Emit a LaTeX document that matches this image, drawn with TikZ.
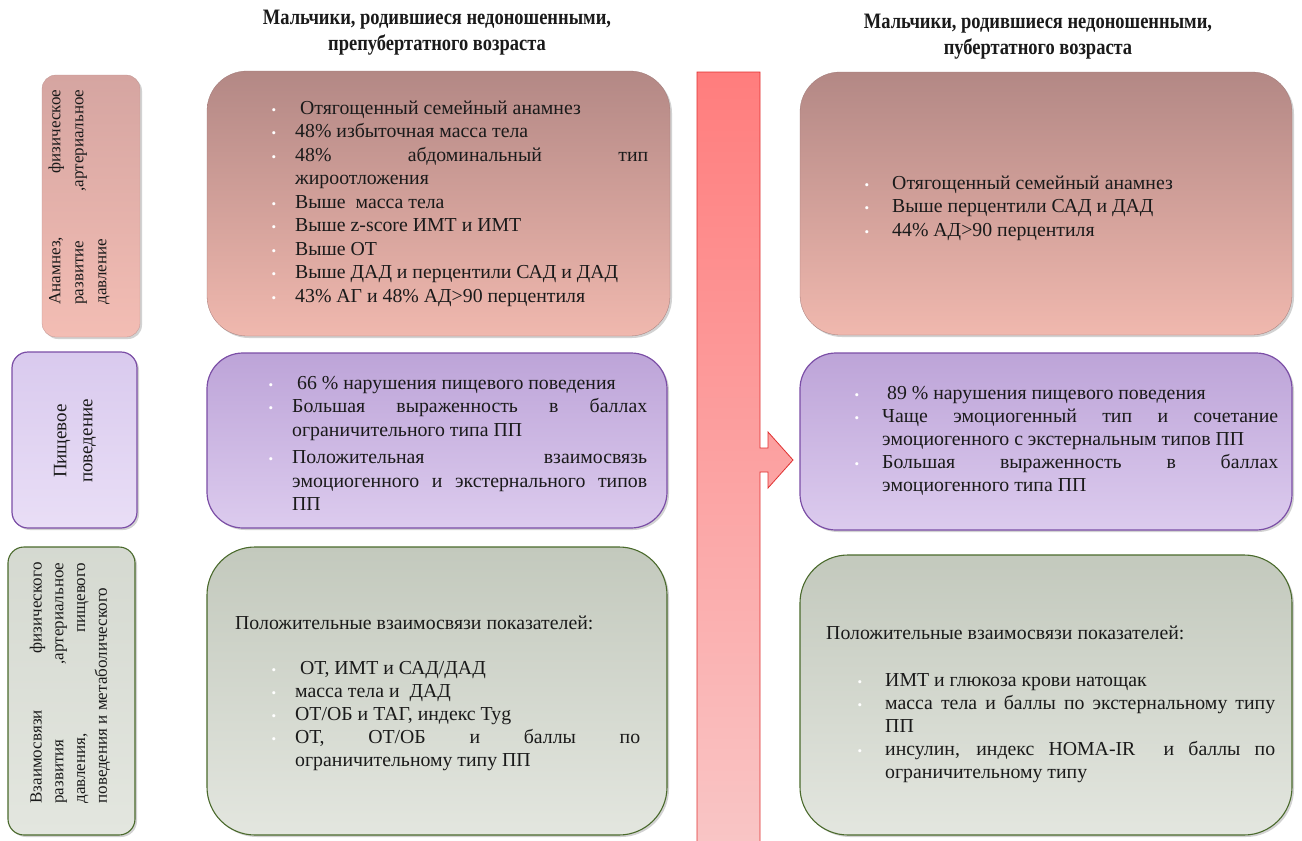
\documentclass[tikz,border=0pt]{standalone}
\usepackage{fontspec}
\setmainfont{Liberation Serif}
\newfontfamily\tfont[FakeStretch=0.84]{Liberation Serif}
\usetikzlibrary{shadows}
\definecolor{pinkA}{HTML}{B38885}
\definecolor{pinkB}{HTML}{F0B8AE}
\definecolor{pinkLA}{HTML}{D5A5A1}
\definecolor{pinkLB}{HTML}{F3BDB4}
\definecolor{purA}{HTML}{BDA4D8}
\definecolor{purB}{HTML}{DCCBEE}
\definecolor{purLA}{HTML}{D9CAEE}
\definecolor{purLB}{HTML}{E9DEF6}
\definecolor{purD}{HTML}{7B4EA6}
\definecolor{grnA}{HTML}{C3C9BD}
\definecolor{grnB}{HTML}{E3E6DF}
\definecolor{grnD}{HTML}{4A6A2C}
\definecolor{redA}{HTML}{FF7D7D}
\definecolor{redB}{HTML}{F9C6C6}
\definecolor{redD}{HTML}{E03030}
\definecolor{txt}{HTML}{1A1A1A}
\newcommand{\bu}{\leavevmode\llap{\textcolor{white}{\fontsize{13}{13}\selectfont •}\hspace{19pt}}}
\newcommand{\bur}{\leavevmode\llap{\textcolor{white}{\fontsize{13}{13}\selectfont •}\hspace{23pt}}}
\newcommand{\jl}[1]{\makebox[\linewidth][s]{#1}}
\newcommand{\bodyfont}{\fontsize{19.8}{23.5}\selectfont}
\newcommand{\labfont}{\fontsize{17}{23}\selectfont}
\tikzset{
  box/.style={inner sep=0pt, drop shadow={shadow xshift=2pt, shadow yshift=-2pt, opacity=0.35}},
  pinkbox/.style={box, rounded corners=40pt, top color=pinkA, bottom color=pinkB, draw=pinkA!90!black, line width=0.3pt},
  pinklab/.style={box, rounded corners=14pt, top color=pinkLA, bottom color=pinkLB, draw=pinkLA!90!black, line width=0.3pt},
  purbox/.style={box, rounded corners=36pt, top color=purA, bottom color=purB, draw=purD, line width=1.2pt},
  purlab/.style={box, rounded corners=16pt, top color=purLA, bottom color=purLB, draw=purD, line width=1.2pt},
  grnbox/.style={box, rounded corners=48pt, top color=grnA, bottom color=grnB, draw=grnD, line width=1.1pt},
  grnlab/.style={box, rounded corners=16pt, top color=grnA!70!white, bottom color=grnB, draw=grnD, line width=1.1pt},
  bodytext/.style={inner sep=0pt, anchor=base west, text=txt},
  labtext/.style={inner sep=0pt, rotate=90, text=txt},
  title/.style={inner sep=0pt, align=center, text=txt, font=\tfont\bfseries\fontsize{22}{26}\selectfont},
  bar/.style={top color=redA, bottom color=redB, draw=redD, line width=0.8pt}
}
\begin{document}
\begin{tikzpicture}[x=1pt, y=-1pt]
\useasboundingbox (0,0) rectangle (1302,841);
\fill[white] (0,0) rectangle (1302,841);
\clip (0,0) rectangle (1302,841);

% titles
\node[title] (t1) at (437,33) {Мальчики, родившиеся недоношенными,\\препубертатного возраста};
\node[title] (t2) at (1038,37) {Мальчики, родившиеся недоношенными,\\пубертатного возраста};

% boxes
\node[pinklab, minimum width=98pt, minimum height=262pt] (lp) at (91,206) {};
\node[purlab, minimum width=125pt, minimum height=176pt] (lu) at (74.5,440) {};
\node[grnlab, minimum width=127pt, minimum height=288pt] (lg) at (71.5,691) {};
\node[pinkbox, minimum width=463pt, minimum height=265pt] (mp) at (438.5,203.5) {};
\node[purbox, minimum width=460pt, minimum height=175pt] (mu) at (437,440.5) {};
\node[grnbox, minimum width=460pt, minimum height=288pt] (mg) at (437,691) {};
\node[pinkbox, minimum width=492pt, minimum height=263pt] (rp) at (1046,203.5) {};
\node[purbox, minimum width=492pt, minimum height=177pt] (ru) at (1046,441.5) {};
\node[grnbox, minimum width=492pt, minimum height=280pt] (rg) at (1046,695) {};

% red bar with arrow
\draw[bar] (697,72) -- (760,72) -- (760,448) -- (768,448) -- (768,432) -- (793,460)
  -- (768,488) -- (768,472) -- (760,472) -- (760,850) -- (697,850) -- cycle;

% left labels
\node[labtext] (l1) at (79,197) {\parbox{215pt}{\labfont
\jl{Анамнез, физическое}\\
\jl{развитие ,артериальное}\\
давление}};
\node[labtext] (l2) at (75,441) {\parbox{120pt}{\fontsize{19}{26}\selectfont\centering
Пищевое\\поведение}};
\node[labtext] (l3) at (70,683) {\parbox{241pt}{\fontsize{17}{21.7}\selectfont
\jl{Взаимосвязи физического}\\
\jl{развития ,артериальное}\\
\jl{давления, пищевого}\\
поведения и метаболического}};

% middle texts
\node[bodytext] (tmp) at (295,114) {\parbox[t]{353pt}{\bodyfont
\bu\ Отягощенный семейный анамнез\\
\bu 48\% избыточная масса тела\\
\bu\jl{48\% абдоминальный тип}\\
жироотложения\\
\bu Выше\ \ масса тела\\
\bu Выше z-score ИМТ и ИМТ\\
\bu Выше ОТ\\
\bu Выше ДАД и перцентили САД и ДАД\\
\bu 43\% АГ и 48\% АД>90 перцентиля}};

\node[bodytext] (tmu) at (292,389) {\parbox[t]{355pt}{\bodyfont
\bu\ 66 \% нарушения пищевого поведения\\
\bu\jl{Большая выраженность в баллах}\\
ограничительного типа ПП\\[4pt]
\bu\jl{Положительная взаимосвязь}\\
\jl{эмоциогенного и экстернального типов}\\
ПП}};

\node[bodytext] (hmg) at (235,629) {\bodyfont Положительные взаимосвязи показателей:};
\node[bodytext] (tmg) at (295,674) {\parbox[t]{345pt}{\fontsize{19.8}{23}\selectfont
\bu\ ОТ, ИМТ и САД/ДАД\\
\bu масса тела и\ \ ДАД\\
\bu ОТ/ОБ и ТАГ, индекс Tyg\\
\bu\jl{ОТ, ОТ/ОБ и баллы по}\\
ограничительному типу ПП}};

% right texts
\node[bodytext] (trp) at (892,189) {\parbox[t]{380pt}{\bodyfont
\bur Отягощенный семейный анамнез\\
\bur Выше перцентили САД и ДАД\\
\bur 44\% АД>90 перцентиля}};

\node[bodytext] (tru) at (882,399) {\parbox[t]{396pt}{\fontsize{19.8}{23.2}\selectfont
\bur\ 89 \% нарушения пищевого поведения\\
\bur\jl{Чаще эмоциогенный тип и сочетание}\\
эмоциогенного с экстернальным типов ПП\\
\bur\jl{Большая выраженность в баллах}\\
эмоциогенного типа ПП}};

\node[bodytext] (hrg) at (826,639) {\bodyfont Положительные взаимосвязи показателей:};
\node[bodytext] (trg) at (885,686) {\parbox[t]{390pt}{\fontsize{19.8}{23}\selectfont
\bur ИМТ и глюкоза крови натощак\\
\bur\jl{масса тела и баллы по экстернальному типу}\\
ПП\\
\bur\jl{инсулин, индекс HOMA-IR\ \ и баллы по}\\
ограничительному типу}};
\end{tikzpicture}
\end{document}
